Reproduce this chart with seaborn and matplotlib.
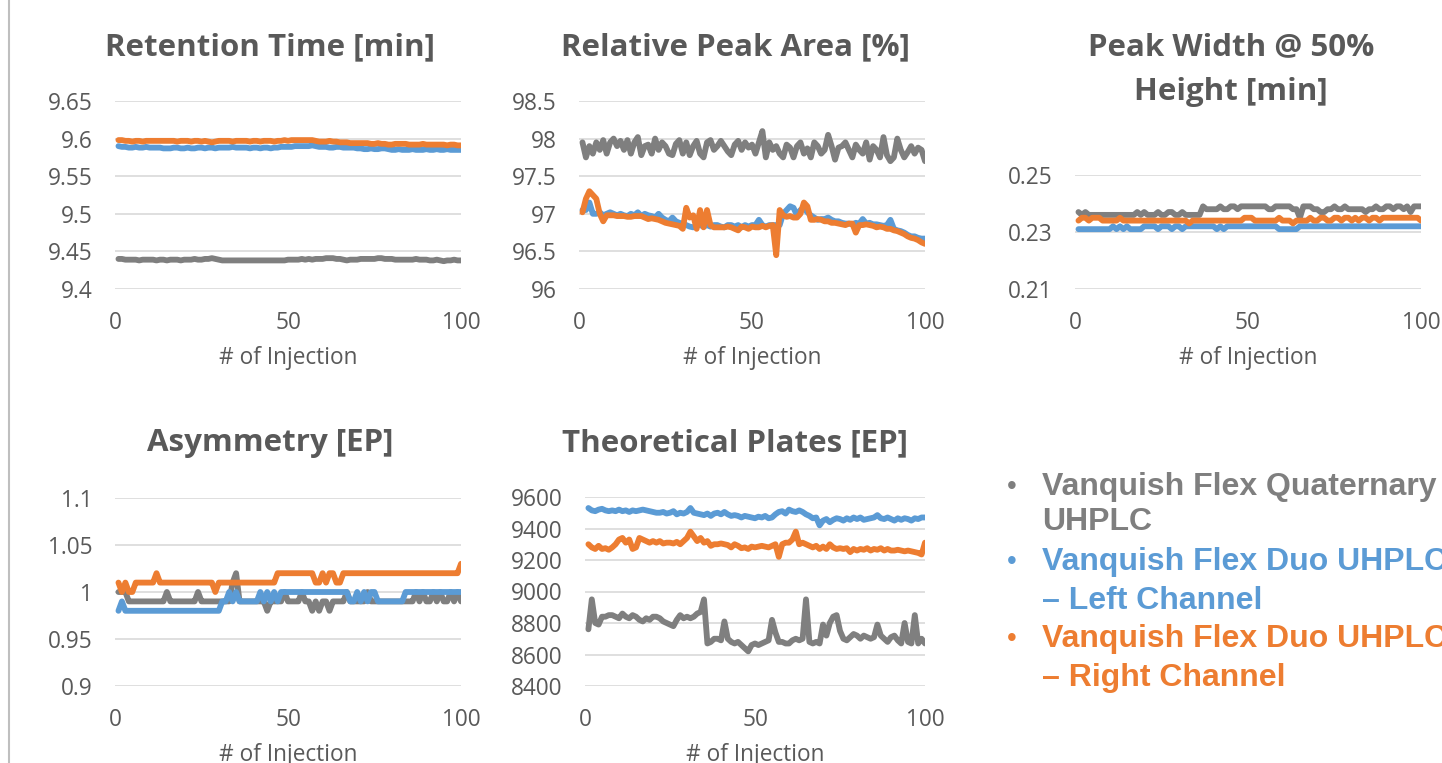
import matplotlib
matplotlib.use("Agg")
import matplotlib.pyplot as plt
from matplotlib.ticker import FuncFormatter
from matplotlib.lines import Line2D
import seaborn as sns
import pandas as pd

# injection numbers
injections = list(range(1, 101))
series_names = ["Vanquish Flex Quaternary UHPLC",
                "Vanquish Flex Duo UHPLC – Left Channel",
                "Vanquish Flex Duo UHPLC – Right Channel"]

# Retention Time [min]
rt_quat = [9.440, 9.440, 9.439, 9.439, 9.439, 9.439, 9.438, 9.439, 9.439, 9.439,
           9.439, 9.438, 9.439, 9.439, 9.438, 9.439, 9.439, 9.439, 9.438, 9.439,
           9.439, 9.439, 9.440, 9.439, 9.439, 9.440, 9.440, 9.441, 9.440, 9.439,
           9.438, 9.438, 9.438, 9.438, 9.438, 9.438, 9.438, 9.438, 9.438, 9.438,
           9.438, 9.438, 9.438, 9.438, 9.438, 9.438, 9.438, 9.438, 9.438, 9.439,
           9.439, 9.439, 9.439, 9.440, 9.439, 9.440, 9.439, 9.440, 9.440, 9.440,
           9.441, 9.441, 9.441, 9.440, 9.440, 9.439, 9.438, 9.439, 9.439, 9.439,
           9.440, 9.440, 9.440, 9.440, 9.440, 9.441, 9.441, 9.440, 9.440, 9.440,
           9.439, 9.439, 9.439, 9.439, 9.439, 9.439, 9.440, 9.439, 9.439, 9.439,
           9.438, 9.438, 9.439, 9.438, 9.437, 9.438, 9.438, 9.439, 9.438, 9.438]
rt_left = [9.590, 9.589, 9.589, 9.588, 9.588, 9.589, 9.588, 9.588, 9.589, 9.588,
           9.588, 9.588, 9.588, 9.587, 9.587, 9.587, 9.588, 9.588, 9.587, 9.587,
           9.588, 9.587, 9.587, 9.588, 9.588, 9.587, 9.588, 9.588, 9.587, 9.588,
           9.588, 9.588, 9.588, 9.589, 9.588, 9.588, 9.588, 9.588, 9.587, 9.588,
           9.588, 9.587, 9.588, 9.588, 9.587, 9.588, 9.588, 9.589, 9.589, 9.589,
           9.589, 9.590, 9.590, 9.590, 9.590, 9.590, 9.591, 9.590, 9.589, 9.589,
           9.589, 9.588, 9.588, 9.589, 9.589, 9.588, 9.588, 9.588, 9.588, 9.587,
           9.587, 9.586, 9.586, 9.587, 9.586, 9.586, 9.587, 9.587, 9.586, 9.585,
           9.585, 9.586, 9.585, 9.585, 9.585, 9.586, 9.585, 9.585, 9.585, 9.586,
           9.585, 9.585, 9.586, 9.585, 9.585, 9.586, 9.585, 9.585, 9.585, 9.585]
rt_right = [9.598, 9.598, 9.597, 9.597, 9.596, 9.597, 9.597, 9.596, 9.597, 9.597,
            9.597, 9.597, 9.597, 9.597, 9.597, 9.597, 9.597, 9.596, 9.597, 9.597,
            9.597, 9.596, 9.597, 9.597, 9.596, 9.597, 9.596, 9.595, 9.596, 9.597,
            9.597, 9.597, 9.597, 9.596, 9.597, 9.597, 9.597, 9.597, 9.596, 9.597,
            9.597, 9.596, 9.597, 9.597, 9.597, 9.596, 9.597, 9.597, 9.598, 9.597,
            9.598, 9.598, 9.598, 9.598, 9.598, 9.598, 9.598, 9.597, 9.596, 9.596,
            9.596, 9.597, 9.596, 9.596, 9.595, 9.595, 9.595, 9.594, 9.594, 9.594,
            9.594, 9.594, 9.594, 9.593, 9.593, 9.594, 9.593, 9.593, 9.592, 9.592,
            9.593, 9.593, 9.593, 9.593, 9.592, 9.592, 9.592, 9.592, 9.593, 9.592,
            9.592, 9.592, 9.592, 9.592, 9.592, 9.591, 9.592, 9.592, 9.591, 9.591]

# Relative Peak Area [%]
area_quat = [97.95, 97.75, 97.90, 97.80, 97.95, 97.85, 97.98, 97.80, 97.95, 98.00,
             97.90, 97.97, 97.85, 97.98, 97.80, 97.95, 98.02, 97.78, 97.90, 97.92,
             97.80, 98.00, 97.85, 97.95, 97.90, 97.80, 97.78, 97.93, 97.98, 97.80,
             97.95, 97.78, 97.90, 97.97, 97.80, 97.75, 97.95, 97.98, 97.85, 97.90,
             97.97, 97.90, 97.83, 97.78, 97.92, 97.97, 97.85, 97.95, 97.88, 97.92,
             97.80, 97.95, 98.10, 97.75, 97.95, 97.85, 97.90, 97.80, 97.75, 97.92,
             97.88, 97.75, 97.90, 97.95, 97.80, 97.87, 97.75, 97.95, 97.90, 97.80,
             97.85, 98.05, 97.90, 97.72, 97.88, 97.90, 97.95, 97.85, 97.75, 97.92,
             97.85, 97.80, 97.95, 97.72, 97.90, 97.85, 97.75, 98.02, 97.78, 97.70,
             97.75, 98.00, 97.85, 97.75, 97.82, 97.90, 97.80, 97.88, 97.85, 97.70]
area_left = [97.05, 97.05, 97.15, 97.00, 97.00, 97.02, 96.98, 97.00, 97.02, 97.00,
             96.98, 97.00, 96.98, 96.97, 97.00, 96.98, 97.02, 96.97, 97.00, 96.98,
             96.97, 96.95, 97.00, 96.95, 96.92, 96.90, 96.95, 96.90, 96.88, 96.87,
             96.85, 96.83, 96.82, 96.85, 96.85, 96.83, 96.85, 96.83, 96.85, 96.85,
             96.83, 96.82, 96.85, 96.85, 96.83, 96.85, 96.82, 96.85, 96.83, 96.85,
             96.85, 96.92, 96.85, 96.83, 96.85, 96.85, 96.85, 96.85, 97.00, 97.05,
             97.10, 97.08, 96.98, 97.05, 97.08, 97.02, 96.98, 96.95, 96.92, 96.93,
             96.93, 96.95, 96.92, 96.90, 96.90, 96.88, 96.87, 96.87, 96.86, 96.88,
             96.87, 96.93, 96.87, 96.88, 96.86, 96.86, 96.85, 96.84, 96.85, 96.92,
             96.80, 96.78, 96.77, 96.75, 96.72, 96.70, 96.70, 96.68, 96.67, 96.67]
area_right = [97.02, 97.20, 97.30, 97.25, 97.20, 97.00, 96.90, 96.98, 96.98, 96.98,
              96.97, 96.97, 96.97, 96.96, 96.96, 96.97, 96.97, 96.97, 96.95, 96.93,
              96.94, 96.93, 96.92, 96.90, 96.88, 96.87, 96.86, 96.85, 96.84, 96.80,
              97.08, 96.95, 96.98, 96.80, 97.05, 96.82, 97.05, 96.85, 96.82, 96.82,
              96.82, 96.82, 96.83, 96.82, 96.80, 96.78, 96.83, 96.82, 96.80, 96.83,
              96.82, 96.82, 96.84, 96.82, 96.84, 96.85, 96.45, 97.05, 96.98, 96.96,
              96.97, 96.95, 96.95, 97.00, 97.15, 97.10, 96.92, 96.92, 96.93, 96.92,
              96.90, 96.90, 96.88, 96.88, 96.87, 96.86, 96.85, 96.87, 96.87, 96.75,
              96.85, 96.85, 96.86, 96.85, 96.84, 96.82, 96.83, 96.82, 96.80, 96.80,
              96.78, 96.77, 96.75, 96.73, 96.70, 96.68, 96.67, 96.65, 96.62, 96.60]

# Peak Width @ 50% Height [min]
pw_quat = [0.237, 0.236, 0.237, 0.236, 0.236, 0.236, 0.236, 0.236, 0.236, 0.236,
           0.236, 0.236, 0.236, 0.236, 0.236, 0.236, 0.236, 0.237, 0.236, 0.237,
           0.236, 0.236, 0.236, 0.237, 0.236, 0.236, 0.237, 0.237, 0.236, 0.236,
           0.237, 0.236, 0.236, 0.236, 0.236, 0.236, 0.239, 0.238, 0.238, 0.238,
           0.238, 0.239, 0.238, 0.238, 0.239, 0.239, 0.238, 0.239, 0.239, 0.239,
           0.239, 0.239, 0.239, 0.239, 0.239, 0.238, 0.238, 0.239, 0.239, 0.239,
           0.239, 0.239, 0.238, 0.238, 0.235, 0.239, 0.239, 0.239, 0.238, 0.238,
           0.237, 0.237, 0.238, 0.238, 0.239, 0.238, 0.238, 0.239, 0.238, 0.238,
           0.238, 0.238, 0.238, 0.237, 0.238, 0.238, 0.239, 0.238, 0.238, 0.239,
           0.239, 0.238, 0.239, 0.239, 0.238, 0.239, 0.237, 0.239, 0.239, 0.239]
pw_left = [0.231, 0.231, 0.231, 0.231, 0.231, 0.231, 0.231, 0.231, 0.231, 0.231,
           0.232, 0.231, 0.232, 0.231, 0.232, 0.231, 0.231, 0.231, 0.231, 0.232,
           0.232, 0.232, 0.232, 0.231, 0.232, 0.232, 0.232, 0.231, 0.232, 0.232,
           0.231, 0.232, 0.232, 0.232, 0.232, 0.232, 0.232, 0.232, 0.232, 0.232,
           0.231, 0.232, 0.231, 0.232, 0.232, 0.232, 0.232, 0.232, 0.232, 0.232,
           0.232, 0.232, 0.232, 0.232, 0.232, 0.232, 0.232, 0.232, 0.231, 0.231,
           0.231, 0.231, 0.231, 0.231, 0.232, 0.232, 0.232, 0.232, 0.232, 0.232,
           0.232, 0.232, 0.232, 0.232, 0.232, 0.232, 0.232, 0.232, 0.232, 0.232,
           0.232, 0.232, 0.232, 0.232, 0.232, 0.232, 0.232, 0.232, 0.232, 0.232,
           0.232, 0.232, 0.232, 0.232, 0.232, 0.232, 0.232, 0.232, 0.232, 0.232]
pw_right = [0.234, 0.235, 0.235, 0.234, 0.235, 0.235, 0.235, 0.234, 0.234, 0.234,
            0.234, 0.234, 0.235, 0.234, 0.234, 0.234, 0.234, 0.234, 0.234, 0.234,
            0.234, 0.234, 0.234, 0.234, 0.234, 0.234, 0.234, 0.234, 0.234, 0.234,
            0.234, 0.234, 0.233, 0.234, 0.234, 0.234, 0.234, 0.234, 0.234, 0.234,
            0.234, 0.234, 0.234, 0.234, 0.234, 0.234, 0.234, 0.234, 0.235, 0.235,
            0.235, 0.234, 0.234, 0.234, 0.234, 0.234, 0.234, 0.234, 0.235, 0.234,
            0.234, 0.234, 0.233, 0.234, 0.234, 0.234, 0.234, 0.235, 0.234, 0.234,
            0.235, 0.235, 0.234, 0.234, 0.235, 0.235, 0.234, 0.235, 0.235, 0.234,
            0.235, 0.234, 0.235, 0.235, 0.234, 0.235, 0.235, 0.234, 0.235, 0.235,
            0.235, 0.235, 0.235, 0.235, 0.235, 0.235, 0.235, 0.235, 0.235, 0.234]

# Asymmetry [EP]
asym_quat = [1.00, 1.00, 1.00, 0.99, 0.99, 0.99, 0.99, 0.99, 0.99, 0.99,
             0.99, 0.99, 0.99, 0.99, 1.00, 0.99, 0.99, 0.99, 0.99, 0.99,
             0.99, 0.99, 0.99, 1.00, 0.99, 0.99, 0.99, 0.99, 0.99, 0.99,
             0.99, 0.99, 0.99, 1.01, 1.02, 0.99, 0.99, 0.99, 0.99, 0.99,
             0.99, 0.99, 0.99, 0.98, 0.99, 0.99, 0.99, 0.99, 1.00, 0.99,
             0.99, 0.99, 0.99, 1.00, 0.99, 0.99, 0.98, 0.99, 0.98, 0.99,
             0.99, 0.98, 0.99, 0.99, 0.99, 0.99, 1.00, 0.99, 0.99, 0.99,
             0.99, 0.99, 1.00, 0.99, 0.99, 0.99, 0.99, 0.99, 0.99, 0.99,
             0.99, 0.99, 0.99, 0.99, 0.99, 0.99, 1.00, 0.99, 1.00, 0.99,
             0.99, 1.00, 0.99, 1.00, 0.99, 0.99, 1.00, 0.99, 1.00, 0.99]
asym_left = [0.98, 0.99, 0.98, 0.98, 0.98, 0.98, 0.98, 0.98, 0.98, 0.98,
             0.98, 0.98, 0.98, 0.98, 0.98, 0.98, 0.98, 0.98, 0.98, 0.98,
             0.98, 0.98, 0.98, 0.98, 0.98, 0.98, 0.98, 0.98, 0.98, 0.98,
             0.99, 0.99, 1.00, 0.99, 1.00, 0.99, 0.99, 0.99, 0.99, 0.99,
             0.99, 1.00, 0.99, 1.00, 0.99, 1.00, 0.99, 1.00, 1.00, 1.00,
             1.00, 1.00, 1.00, 1.00, 1.00, 1.00, 1.00, 1.00, 1.00, 1.00,
             1.00, 1.00, 1.00, 1.00, 1.00, 1.00, 1.00, 0.99, 0.99, 1.00,
             0.99, 1.00, 0.99, 1.00, 1.00, 0.99, 0.99, 0.99, 0.99, 0.99,
             0.99, 0.99, 0.99, 1.00, 1.00, 1.00, 1.00, 1.00, 1.00, 1.00,
             1.00, 1.00, 1.00, 1.00, 1.00, 1.00, 1.00, 1.00, 1.00, 1.00]
asym_right = [1.01, 1.00, 1.01, 1.00, 1.00, 1.01, 1.01, 1.01, 1.01, 1.01,
              1.01, 1.02, 1.01, 1.01, 1.01, 1.01, 1.01, 1.01, 1.01, 1.01,
              1.01, 1.01, 1.01, 1.01, 1.01, 1.01, 1.01, 1.01, 1.00, 1.01,
              1.01, 1.01, 1.01, 1.01, 1.01, 1.01, 1.01, 1.01, 1.01, 1.01,
              1.01, 1.01, 1.01, 1.01, 1.01, 1.01, 1.02, 1.02, 1.02, 1.02,
              1.02, 1.02, 1.02, 1.02, 1.02, 1.02, 1.02, 1.01, 1.01, 1.02,
              1.01, 1.02, 1.02, 1.01, 1.01, 1.02, 1.02, 1.02, 1.02, 1.02,
              1.02, 1.02, 1.02, 1.02, 1.02, 1.02, 1.02, 1.02, 1.02, 1.02,
              1.02, 1.02, 1.02, 1.02, 1.02, 1.02, 1.02, 1.02, 1.02, 1.02,
              1.02, 1.02, 1.02, 1.02, 1.02, 1.02, 1.02, 1.02, 1.02, 1.03]

# Theoretical Plates [EP]
tp_quat = [8760, 8950, 8800, 8790, 8840, 8840, 8850, 8850, 8840, 8830,
           8860, 8840, 8830, 8850, 8840, 8820, 8810, 8830, 8820, 8840,
           8840, 8830, 8810, 8800, 8790, 8780, 8820, 8850, 8830, 8840,
           8830, 8840, 8860, 8870, 8950, 8670, 8680, 8700, 8700, 8690,
           8810, 8700, 8680, 8670, 8680, 8660, 8640, 8620, 8660, 8670,
           8660, 8670, 8680, 8690, 8820, 8740, 8680, 8680, 8670, 8670,
           8690, 8700, 8690, 8700, 8950, 8680, 8670, 8680, 8670, 8790,
           8720, 8800, 8840, 8850, 8750, 8700, 8690, 8710, 8730, 8720,
           8700, 8720, 8710, 8700, 8710, 8790, 8720, 8700, 8680, 8710,
           8720, 8690, 8670, 8800, 8680, 8670, 8850, 8670, 8700, 8670]
tp_left = [9530, 9515, 9510, 9520, 9525, 9515, 9510, 9515, 9510, 9520,
           9510, 9515, 9505, 9515, 9510, 9515, 9520, 9515, 9510, 9505,
           9500, 9500, 9505, 9495, 9500, 9510, 9490, 9500, 9495, 9505,
           9530, 9500, 9495, 9490, 9485, 9495, 9480, 9495, 9500, 9490,
           9505, 9490, 9480, 9485, 9480, 9470, 9480, 9475, 9470, 9465,
           9475, 9470, 9480, 9465, 9470, 9490, 9505, 9510, 9495, 9520,
           9510, 9505, 9515, 9505, 9490, 9480, 9465, 9470, 9420, 9450,
           9460, 9440, 9455, 9465, 9460, 9450, 9465, 9455, 9470, 9460,
           9470, 9455, 9460, 9465, 9470, 9485, 9465, 9460, 9470, 9460,
           9450, 9465, 9455, 9465, 9460, 9450, 9465, 9460, 9470, 9470]
tp_right = [9300, 9280, 9270, 9290, 9270, 9275, 9265, 9280, 9300, 9330,
            9340, 9310, 9330, 9270, 9280, 9340, 9330, 9320, 9310, 9320,
            9310, 9320, 9305, 9310, 9310, 9305, 9315, 9300, 9320, 9340,
            9380, 9350, 9320, 9340, 9310, 9320, 9290, 9300, 9300, 9305,
            9300, 9295, 9280, 9300, 9290, 9275, 9280, 9270, 9285, 9280,
            9285, 9290, 9285, 9280, 9290, 9300, 9220, 9300, 9310, 9310,
            9330, 9380, 9300, 9310, 9300, 9290, 9280, 9290, 9270, 9285,
            9270, 9300, 9280, 9270, 9275, 9270, 9275, 9250, 9270, 9260,
            9270, 9265, 9275, 9260, 9270, 9265, 9275, 9260, 9270, 9260,
            9260, 9265, 9260, 9255, 9260, 9255, 9250, 9245, 9235, 9310]

GRAY, BLUE, ORANGE = "#7f7f7f", "#5b9bd5", "#ed7d31"
TXT = "#595959"
palette = dict(zip(series_names, [GRAY, BLUE, ORANGE]))

sns.set_style("white")
plt.rcParams["font.family"] = ["Open Sans", "DejaVu Sans"]

W, H = 1442, 763
fig = plt.figure(figsize=(W / 100, H / 100), dpi=100)


def make_axes(left, top, right, bottom):
    return fig.add_axes([left / W, 1 - bottom / H, (right - left) / W, (bottom - top) / H])


def panel(ax, ys, ylim, yticks, title, title_xy, h_px):
    df = pd.DataFrame({
        "x": injections * 3,
        "y": ys[0] + ys[1] + ys[2],
        "series": [series_names[0]] * 100 + [series_names[1]] * 100 + [series_names[2]] * 100,
    })
    sns.lineplot(data=df, x="x", y="y", hue="series", palette=palette, ax=ax,
                 linewidth=4.2, legend=False, solid_capstyle="round", solid_joinstyle="round")
    ax.set_xlim(0, 100)
    ax.set_ylim(*ylim)
    ax.set_xticks([0, 50, 100])
    ax.set_yticks(yticks)
    ax.yaxis.set_major_formatter(FuncFormatter(lambda v, p: f"{round(v, 3):g}"))
    ax.grid(axis="y", color="#d9d9d9", linewidth=1.2)
    ax.set_axisbelow(True)
    for s in ax.spines.values():
        s.set_visible(False)
    ax.tick_params(axis="both", length=0, labelsize=16.3, labelcolor=TXT)
    ax.tick_params(axis="x", pad=16)
    ax.tick_params(axis="y", pad=16)
    ax.set_ylabel("")
    ax.set_xlabel("# of Injection", fontsize=16.3, color=TXT, va="center")
    ax.xaxis.set_label_coords(0.5, -69 / h_px)
    fig.text(title_xy[0] / W, 1 - title_xy[1] / H, title, ha="center", va="center",
             fontsize=22.5, fontweight="bold", color=TXT, linespacing=1.65)


ax1 = make_axes(115, 101, 461, 289)
panel(ax1, [rt_quat, rt_left, rt_right], (9.4, 9.65), [9.4, 9.45, 9.5, 9.55, 9.6, 9.65],
      "Retention Time [min]", (270, 47), 188)
ax2 = make_axes(579, 101, 925, 289)
panel(ax2, [area_quat, area_left, area_right], (96, 98.5), [96, 96.5, 97, 97.5, 98, 98.5],
      "Relative Peak Area [%]", (735, 47), 188)
ax3 = make_axes(1075, 175, 1421, 289)
panel(ax3, [pw_quat, pw_left, pw_right], (0.21, 0.25), [0.21, 0.23, 0.25],
      "Peak Width @ 50%\nHeight [min]", (1231, 70), 114)
ax4 = make_axes(115, 498, 461, 686)
panel(ax4, [asym_quat, asym_left, asym_right], (0.9, 1.1), [0.9, 0.95, 1.0, 1.05, 1.1],
      "Asymmetry [EP]", (270, 443), 188)
ax5 = make_axes(585, 497, 925, 686)
panel(ax5, [tp_quat, tp_left, tp_right], (8400, 9600), list(range(8400, 9601, 200)),
      "Theoretical Plates [EP]", (735, 443), 189)

# legend as bulleted text
legend_lines = [("Vanquish Flex Quaternary", GRAY, 487, True), ("UHPLC", GRAY, 522, False),
                ("Vanquish Flex Duo UHPLC", BLUE, 562, True), ("– Left Channel", BLUE, 601, False),
                ("Vanquish Flex Duo UHPLC", ORANGE, 639, True), ("– Right Channel", ORANGE, 678, False)]
for text, col, y, bullet in legend_lines:
    if bullet:
        fig.text(1012 / W, 1 - y / H, "•", ha="center", va="center", fontsize=20,
                 color=col, family=["Liberation Sans", "DejaVu Sans"])
    fig.text(1042 / W, 1 - y / H, text, ha="left", va="center", fontsize=23,
             fontweight="bold", color=col, family=["Liberation Sans", "DejaVu Sans"])

# slide border on the left
fig.add_artist(Line2D([9 / W, 9 / W], [0, 1], color="#bfbfbf", linewidth=1.5))

fig.savefig("out.png", dpi=100)
